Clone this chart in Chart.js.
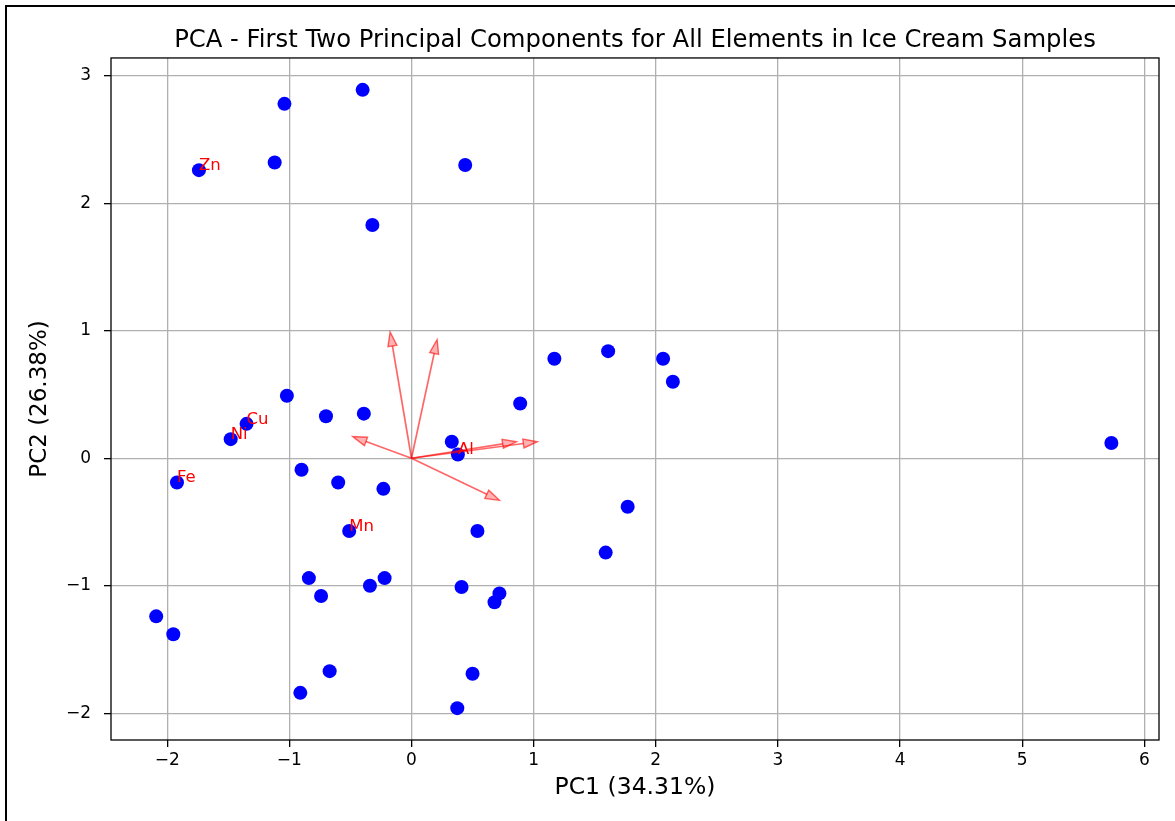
<!DOCTYPE html>
<html lang="en">
<head>
  <meta charset="UTF-8">
  <title>PCA - Ice Cream Samples</title>
  <script src="https://cdn.jsdelivr.net/npm/chart.js@4.4.1/dist/chart.umd.min.js"></script>
  <style>
    html, body { margin: 0; padding: 0; background: #fff; overflow: hidden; }
    #wrap { position: relative; width: 1175px; height: 821px; }
    #frame {
      position: absolute; left: 5px; top: 5px; width: 1300px; height: 1000px;
      border-top: 2px solid #000; border-left: 2px solid #000; pointer-events: none;
    }
  </style>
</head>
<body>
<div id="wrap">
  <canvas id="pcaChart"></canvas>
  <div id="frame"></div>
</div>

<script>
  // sample scores (PC1, PC2)
  const pc1 = [-1.74, -1.35, -1.48, -1.92, -0.51, 0.38,
               -0.40, -1.04, -1.12, 0.44, -0.32, 1.17, 1.61, 2.06, 2.14, 0.89,
               -1.02, -0.70, -0.39, 0.33, 5.73, -0.90, -0.60, -0.23, 0.54, 1.77,
               1.59, -0.84, -0.22, -0.34, -0.74, 0.41, 0.72, 0.68, -2.09, -1.95,
               -0.67, 0.50, -0.91, 0.375];
  const pc2 = [2.26, 0.27, 0.15, -0.19, -0.57, 0.03,
               2.89, 2.78, 2.32, 2.30, 1.83, 0.78, 0.84, 0.78, 0.60, 0.43,
               0.49, 0.33, 0.35, 0.13, 0.12, -0.09, -0.19, -0.24, -0.57, -0.38,
               -0.74, -0.94, -0.94, -1.00, -1.08, -1.01, -1.06, -1.13, -1.24, -1.38,
               -1.67, -1.69, -1.84, -1.96];

  // element labels (drawn at the first six sample positions)
  const elementNames = ["Zn", "Cu", "Ni", "Fe", "Mn", "Al"];

  // loading vectors (arrow tips)
  const loadX = [-0.175, 0.21, -0.48, 0.86, 1.03, 0.72];
  const loadY = [0.99, 0.93, 0.17, 0.13, 0.13, -0.33];

  const xTicks = [-2, -1, 0, 1, 2, 3, 4, 5, 6];
  const yTicks = [-2, -1, 0, 1, 2, 3];

  const puntos = pc1.map((x, i) => ({ x: x, y: pc2[i] }));

  function fmt(v) {
    return v < 0 ? "\u2212" + Math.abs(v) : String(v);
  }

  const biplot = {
    id: "biplot",
    beforeDatasetsDraw(chart) {
      const { ctx, chartArea: a } = chart;
      ctx.save();
      ctx.strokeStyle = "#000";
      ctx.lineWidth = 1.3;
      ctx.strokeRect(a.left, a.top, a.right - a.left, a.bottom - a.top);
      ctx.restore();
    },
    afterDatasetsDraw(chart) {
      const { ctx } = chart;
      const sx = chart.scales.x, sy = chart.scales.y;
      const x0 = sx.getPixelForValue(0), y0 = sy.getPixelForValue(0);
      ctx.save();
      for (let i = 0; i < loadX.length; i++) {
        const tx = sx.getPixelForValue(loadX[i]);
        const ty = sy.getPixelForValue(loadY[i]);
        const ang = Math.atan2(ty - y0, tx - x0);
        const hl = 14, hw = 4.5;
        const bx = tx - hl * Math.cos(ang), by = ty - hl * Math.sin(ang);
        ctx.strokeStyle = "rgba(255,0,0,0.6)";
        ctx.lineWidth = 1.7;
        ctx.beginPath();
        ctx.moveTo(x0, y0);
        ctx.lineTo(bx, by);
        ctx.stroke();
        ctx.beginPath();
        ctx.moveTo(tx, ty);
        ctx.lineTo(bx + hw * Math.sin(ang), by - hw * Math.cos(ang));
        ctx.lineTo(bx - hw * Math.sin(ang), by + hw * Math.cos(ang));
        ctx.closePath();
        ctx.fillStyle = "rgba(255,0,0,0.3)";
        ctx.fill();
        ctx.lineWidth = 1.4;
        ctx.stroke();
      }
      ctx.fillStyle = "#ff0000";
      ctx.font = "16.5px 'DejaVu Sans'";
      ctx.textAlign = "left";
      ctx.textBaseline = "alphabetic";
      elementNames.forEach((n, i) => {
        ctx.fillText(n, sx.getPixelForValue(pc1[i]), sy.getPixelForValue(pc2[i]));
      });
      ctx.restore();
    }
  };

  document.addEventListener("DOMContentLoaded", () => {
    const ctx = document.getElementById("pcaChart").getContext("2d");
    new Chart(ctx, {
      type: "scatter",
      data: {
        datasets: [{
          label: "Samples",
          data: puntos,
          backgroundColor: "#0000ff",
          borderWidth: 0,
          pointRadius: 7,
          pointHoverRadius: 7
        }]
      },
      options: {
        responsive: true,
        maintainAspectRatio: false,
        animation: false,
        layout: { padding: { left: 0, right: 16, top: 0, bottom: 0 } },
        plugins: {
          legend: { display: false },
          tooltip: { enabled: false },
          title: {
            display: true,
            fullSize: false,
            text: "PCA - First Two Principal Components for All Elements in Ice Cream Samples",
            color: "#000",
            font: { family: "'DejaVu Sans'", size: 24.3, weight: "normal", lineHeight: 1.2 },
            padding: { top: 26, bottom: 2.8 }
          }
        },
        scales: {
          x: {
            type: "linear",
            min: -2.46,
            max: 6.12,
            afterFit: s => { s.height = 81; },
            afterBuildTicks: s => { s.ticks = xTicks.map(v => ({ value: v })); },
            grid: { color: "#b0b0b0", lineWidth: 1.3, drawTicks: true, tickLength: 7, tickColor: "#000", tickWidth: 1.3 },
            border: { display: false },
            ticks: {
              color: "#000",
              padding: 3,
              font: { family: "'DejaVu Sans'", size: 17 },
              callback: v => fmt(v)
            },
            title: {
              display: true,
              text: "PC1 (34.31%)",
              color: "#000",
              font: { family: "'DejaVu Sans'", size: 23.5, lineHeight: 1.2 },
              padding: { top: 0, bottom: 19 }
            }
          },
          y: {
            type: "linear",
            min: -2.21,
            max: 3.14,
            afterFit: s => { s.width = 111; },
            afterBuildTicks: s => { s.ticks = yTicks.map(v => ({ value: v })); },
            grid: { color: "#b0b0b0", lineWidth: 1.3, drawTicks: true, tickLength: 7, tickColor: "#000", tickWidth: 1.3 },
            border: { display: false },
            ticks: {
              color: "#000",
              padding: 13,
              font: { family: "'DejaVu Sans'", size: 17 },
              callback: v => fmt(v)
            },
            title: {
              display: true,
              text: "PC2 (26.38%)",
              color: "#000",
              font: { family: "'DejaVu Sans'", size: 23, lineHeight: 1.2 },
              padding: { top: 26, bottom: 0 }
            }
          }
        }
      },
      plugins: [biplot]
    });
  });
</script>
</body>
</html>
